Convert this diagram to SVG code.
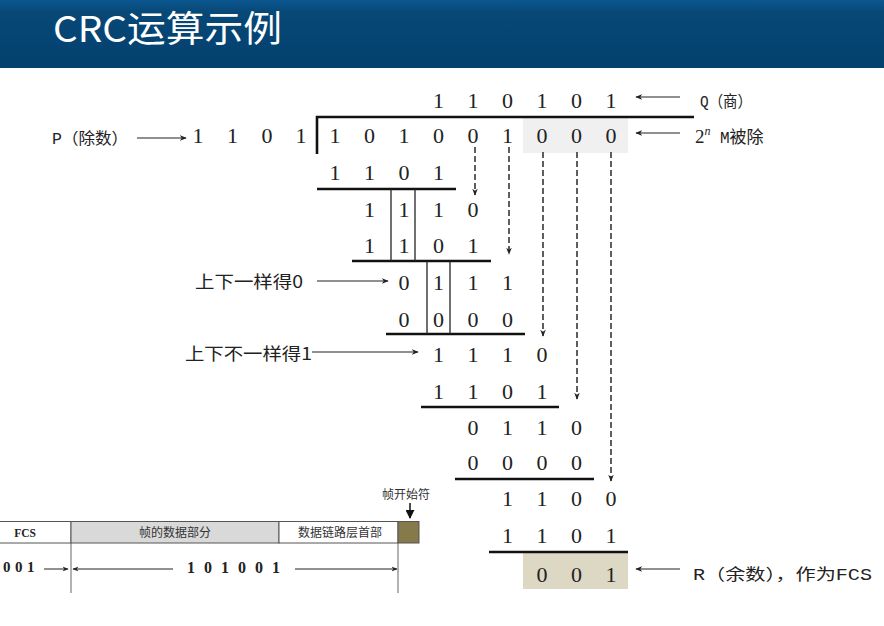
<svg xmlns="http://www.w3.org/2000/svg" width="884" height="626" viewBox="0 0 884 626">
<defs>
<linearGradient id="hdr" x1="0" y1="0" x2="0" y2="1">
<stop offset="0" stop-color="#0b5790"/>
<stop offset="0.18" stop-color="#074877"/>
<stop offset="1" stop-color="#03416e"/>
</linearGradient>
<marker id="ah" viewBox="0 0 10 10" refX="9" refY="5" markerWidth="7" markerHeight="7" orient="auto" markerUnits="userSpaceOnUse">
<path d="M0,1 L10,5 L0,9 L3,5 Z" fill="#222"/>
</marker>
<marker id="ahs" viewBox="0 0 10 10" refX="9" refY="5" markerWidth="6" markerHeight="6" orient="auto" markerUnits="userSpaceOnUse">
<path d="M0,1 L10,5 L0,9 L3,5 Z" fill="#222"/>
</marker>
<marker id="ahb" viewBox="0 0 10 10" refX="9" refY="5" markerWidth="9" markerHeight="9" orient="auto" markerUnits="userSpaceOnUse">
<path d="M0,0 L10,5 L0,10 Z" fill="#111"/>
</marker>
</defs>
<style>
.d{font-family:"Liberation Serif","DejaVu Serif",serif;font-size:22px;fill:#222;text-anchor:middle}
.lbl{font-family:"Liberation Mono","Noto Sans CJK SC",monospace;font-size:16px;fill:#222}
.cjk{font-family:"Noto Sans CJK SC","Liberation Sans",sans-serif;font-size:17px;fill:#222}
.rule{stroke:#111;stroke-width:2.6;fill:none}
.vline{stroke:#222;stroke-width:1.3;fill:none}
.dash{stroke:#2a2a2a;stroke-width:1.5;stroke-dasharray:6,3;fill:none;marker-end:url(#ah)}
.arr{stroke:#222;stroke-width:1.2;fill:none;marker-end:url(#ah)}
.box{stroke:#555;stroke-width:1;}
.small{font-family:"Noto Sans CJK SC","Liberation Sans",sans-serif;font-size:12px;fill:#333;text-anchor:middle}
.bold{font-family:"Liberation Serif","DejaVu Serif",serif;font-weight:bold;fill:#222}
</style>

<g id="header">
<rect x="0" y="0" width="884" height="68" fill="url(#hdr)"/>
<text x="53" y="42" font-family="Noto Sans CJK SC,Liberation Sans,sans-serif" font-size="36" fill="#ffffff" textLength="229" lengthAdjust="spacingAndGlyphs">CRC运算示例</text>
</g>

<g id="highlights">
<rect x="523" y="117" width="105" height="36" fill="#f0f0f0"/>
<rect x="523" y="553" width="105" height="36" fill="#ddd8c3"/>
</g>

<g id="division-rules">
<path class="rule" d="M317,154 L317,117 L694,117"/>
<line class="rule" x1="317" y1="189" x2="456" y2="189"/>
<line class="rule" x1="352" y1="261" x2="491" y2="261"/>
<line class="rule" x1="386" y1="334" x2="525" y2="334"/>
<line class="rule" x1="421" y1="407" x2="559" y2="407"/>
<line class="rule" x1="455" y1="479" x2="594" y2="479"/>
<line class="rule" x1="489" y1="552" x2="628" y2="552"/>
<line class="vline" x1="391" y1="189" x2="391" y2="261"/>
<line class="vline" x1="415" y1="189" x2="415" y2="261"/>
<line class="vline" x1="427" y1="261" x2="427" y2="334"/>
<line class="vline" x1="450" y1="261" x2="450" y2="334"/>
</g>

<g id="digits">
<text id="quotient" class="d" x="438.5 473 507.5 542 576.5 611" y="108">110101</text>
<text id="dividend" class="d" x="335 369.5 404 438.5 473 507.5 542 576.5 611" y="143">101001000</text>
<text id="divisor" class="d" x="198 232.5 267 301" y="143">1101</text>
<text class="d" x="335 369.5 404 438.5" y="180">1101</text>
<text class="d" x="369.5 404 438.5 473" y="217">1110</text>
<text class="d" x="369.5 404 438.5 473" y="253">1101</text>
<text class="d" x="404 438.5 473 507.5" y="290">0111</text>
<text class="d" x="404 438.5 473 507.5" y="327">0000</text>
<text class="d" x="438.5 473 507.5 542" y="362">1110</text>
<text class="d" x="438.5 473 507.5 542" y="399">1101</text>
<text class="d" x="473 507.5 542 576.5" y="435">0110</text>
<text class="d" x="473 507.5 542 576.5" y="470">0000</text>
<text class="d" x="507.5 542 576.5 611" y="506">1100</text>
<text class="d" x="507.5 542 576.5 611" y="543">1101</text>
<text id="remainder" class="d" x="542 576.5 611" y="582">001</text>
</g>

<g id="connectors">
<line class="dash" x1="475" y1="147" x2="475" y2="195"/>
<line class="dash" x1="509" y1="147" x2="509" y2="254" stroke="#444"/>
<line class="dash" x1="543" y1="152" x2="543" y2="336"/>
<line class="dash" x1="577" y1="152" x2="577" y2="399" stroke="#444"/>
<line class="dash" x1="611" y1="152" x2="611" y2="481"/>
<line class="arr" x1="680" y1="97" x2="636" y2="97"/>
<line class="arr" x1="680" y1="133" x2="636" y2="133"/>
<line class="arr" x1="680" y1="569" x2="636" y2="569"/>
<line class="arr" x1="137" y1="138" x2="186" y2="138"/>
<line class="arr" x1="317" y1="281" x2="388" y2="281"/>
<line class="arr" x1="312" y1="352" x2="418" y2="352"/>
</g>

<g id="label-q">
<text class="lbl" x="700" y="107" textLength="52" lengthAdjust="spacingAndGlyphs">Q（商）</text>
</g>
<g id="label-m">
<text x="695" y="143" font-family="Liberation Serif,serif" font-size="19" fill="#222">2<tspan font-size="12" font-style="italic" dy="-8">n</tspan></text>
<text class="lbl" x="720" y="143">M<tspan font-family="Noto Sans CJK SC,sans-serif" font-size="17">被除</tspan></text>
</g>
<g id="label-p">
<text class="lbl" x="52" y="144" textLength="76" lengthAdjust="spacingAndGlyphs">P（除数）</text>
</g>
<g id="label-same">
<text class="cjk" x="195" y="288" textLength="108" lengthAdjust="spacingAndGlyphs">上下一样得0</text>
</g>
<g id="label-diff">
<text class="cjk" x="185" y="360" textLength="127" lengthAdjust="spacingAndGlyphs">上下不一样得1</text>
</g>
<g id="label-r">
<text class="lbl" x="693" y="580" textLength="179" lengthAdjust="spacingAndGlyphs">R（余数），作为FCS</text>
</g>

<g id="frame">
<rect class="box" x="-2" y="521.5" width="73" height="21.5" fill="#ffffff"/>
<rect class="box" x="71" y="521.5" width="208" height="21.5" fill="#d9d9d9"/>
<rect class="box" x="279" y="521.5" width="119" height="21.5" fill="#ffffff"/>
<rect class="box" x="398" y="521.5" width="21" height="21.5" fill="#877a4a"/>
<text class="bold" x="25" y="537" font-size="11.5" text-anchor="middle">FCS</text>
<text class="small" x="175" y="537">帧的数据部分</text>
<text class="small" x="340" y="537">数据链路层首部</text>
<text class="small" x="406" y="499">帧开始符</text>
<line x1="410" y1="503" x2="410" y2="518" stroke="#111" stroke-width="1.5" marker-end="url(#ahb)"/>
<line x1="71" y1="543" x2="71" y2="593" stroke="#666" stroke-width="1"/>
<line x1="398" y1="543" x2="398" y2="593" stroke="#666" stroke-width="1"/>
<text class="bold" x="3" y="572" font-size="15" letter-spacing="4.5">001</text>
<line x1="44" y1="569" x2="68" y2="569" stroke="#222" stroke-width="1" marker-end="url(#ahs)"/>
<line x1="173" y1="569" x2="73" y2="569" stroke="#222" stroke-width="1" marker-end="url(#ahs)"/>
<text class="bold" x="187" y="573" font-size="16" letter-spacing="9">101001</text>
<line x1="295" y1="569" x2="397" y2="569" stroke="#222" stroke-width="1" marker-end="url(#ahs)"/>
</g>
</svg>
